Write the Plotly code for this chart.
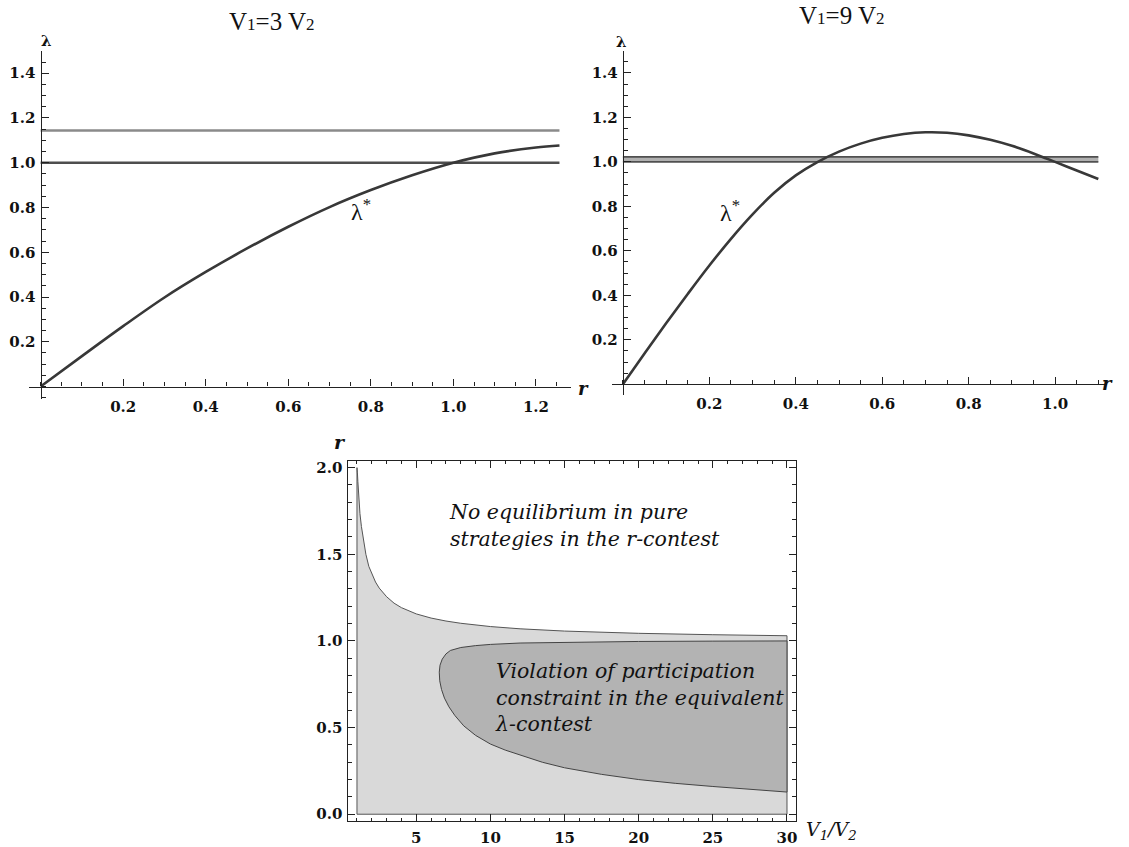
import plotly.graph_objects as go

W, H = 1129, 847
SERIF = "Liberation Serif"
DJ_SERIF = "DejaVu Serif"

# ---------------- data ----------------
# Top-left panel (V1 = 3 V2): lambda* as a function of r
TL_R = [0, 0.1, 0.2, 0.3, 0.4, 0.5, 0.6, 0.7, 0.8, 0.9, 1.0, 1.1, 1.2, 1.257]
TL_LAMBDA = [0, 0.136, 0.270, 0.398, 0.512, 0.617, 0.714, 0.802, 0.878, 0.944,
             1.000, 1.042, 1.068, 1.077]
TL_LEVELS = [1.144, 1.0]
TL_XTICKS = [0.2, 0.4, 0.6, 0.8, 1.0, 1.2]
TL_YTICKS = [0.2, 0.4, 0.6, 0.8, 1.0, 1.2, 1.4]

# Top-right panel (V1 = 9 V2)
TR_R = [0, 0.05, 0.1, 0.15, 0.2, 0.25, 0.3, 0.35, 0.4, 0.45, 0.5, 0.55, 0.6,
        0.65, 0.7, 0.75, 0.8, 0.85, 0.9, 0.95, 1.0, 1.05, 1.1]
TR_LAMBDA = [0, 0.138, 0.274, 0.406, 0.534, 0.654, 0.764, 0.861, 0.939, 0.999,
             1.046, 1.082, 1.108, 1.125, 1.133, 1.131, 1.119, 1.099, 1.072,
             1.038, 1.000, 0.961, 0.923]
TR_LEVELS = [1.0, 1.022]
TR_XTICKS = [0.2, 0.4, 0.6, 0.8, 1.0]
TR_YTICKS = [0.2, 0.4, 0.6, 0.8, 1.0, 1.2, 1.4]

# Bottom panel: regions in the (V1/V2, r) plane
UP_V = [1.0, 1.01, 1.03, 1.06, 1.1, 1.15, 1.2, 1.3, 1.4, 1.5, 1.6, 1.8, 2.0,
        2.25, 2.5, 3.0, 3.5, 4.0, 5.0, 6.0, 7.0, 8.0, 10, 12, 15, 20, 25, 30]
UP_R = [2.0, 1.99, 1.97, 1.92, 1.85, 1.79, 1.735, 1.66, 1.60, 1.54, 1.50, 1.43,
        1.385, 1.34, 1.305, 1.255, 1.218, 1.192, 1.156, 1.132, 1.115, 1.102,
        1.083, 1.07, 1.057, 1.044, 1.036, 1.03]
DARK_UP_V = [6.55, 6.6, 6.75, 7.0, 7.3, 8.0, 9.0, 10, 12, 15, 20, 25, 30]
DARK_UP_R = [0.82, 0.86, 0.895, 0.925, 0.945, 0.962, 0.973, 0.98, 0.988, 0.993,
             0.997, 0.999, 1.0]
DARK_LO_V = [6.55, 6.58, 6.7, 6.9, 7.2, 7.6, 8.2, 9.0, 10, 11, 12, 13.5, 15,
             17.5, 20, 22.5, 25, 27.5, 30]
DARK_LO_R = [0.82, 0.77, 0.72, 0.67, 0.62, 0.57, 0.51, 0.455, 0.405, 0.37, 0.34,
             0.30, 0.268, 0.23, 0.2, 0.178, 0.16, 0.143, 0.128]
B_XTICKS = [5, 10, 15, 20, 25, 30]
B_YTICKS = [0.0, 0.5, 1.0, 1.5, 2.0]


def px(x):
    return x / W


def py(y):
    return 1 - y / H


fig = go.Figure()

# ---------- top-left ----------
for lvl, col in zip(TL_LEVELS, ["#8a8a8a", "#4e4e4e"]):
    fig.add_trace(go.Scatter(x=[TL_R[0], TL_R[-1]], y=[lvl, lvl], mode="lines",
                             line=dict(color=col, width=2.6), xaxis="x", yaxis="y"))
fig.add_trace(go.Scatter(x=TL_R, y=TL_LAMBDA, mode="lines", line_shape="spline",
                         line=dict(color="#383838", width=2.6), xaxis="x", yaxis="y"))

# ---------- top-right ----------
fig.add_trace(go.Scatter(x=[TR_R[0], TR_R[-1]], y=[TR_LEVELS[0]] * 2, mode="lines",
                         line=dict(color="#505050", width=1.8), xaxis="x2", yaxis="y2"))
fig.add_trace(go.Scatter(x=[TR_R[0], TR_R[-1]], y=[TR_LEVELS[1]] * 2, mode="lines",
                         line=dict(color="#505050", width=1.8), fill="tonexty",
                         fillcolor="#b0b0b0", xaxis="x2", yaxis="y2"))
fig.add_trace(go.Scatter(x=TR_R, y=TR_LAMBDA, mode="lines", line_shape="spline",
                         line=dict(color="#383838", width=2.6), xaxis="x2", yaxis="y2"))

# ---------- bottom ----------
light_x = [UP_V[0]] + UP_V + [UP_V[-1], UP_V[0]]
light_y = [0] + UP_R + [0, 0]
fig.add_trace(go.Scatter(x=light_x, y=light_y, mode="lines", fill="toself",
                         fillcolor="#d9d9d9", line=dict(color="#555555", width=1),
                         xaxis="x3", yaxis="y3"))
dark_x = DARK_UP_V + DARK_LO_V[::-1]
dark_y = DARK_UP_R + DARK_LO_R[::-1]
fig.add_trace(go.Scatter(x=dark_x, y=dark_y, mode="lines", fill="toself",
                         fillcolor="#b3b3b3", line=dict(color="#444444", width=1),
                         xaxis="x3", yaxis="y3"))

tickfont = dict(family=DJ_SERIF, size=15, color="#111111", weight="bold")
base_axis = dict(showgrid=False, zeroline=False, showline=True, linecolor="#222222",
                 linewidth=1.3, ticks="inside", tickcolor="#222222", tickwidth=1.2,
                 ticklen=7, tickmode="array", tickfont=tickfont)


def minor(d, ln=4):
    return dict(ticks="inside", ticklen=ln, tickcolor="#222222", tickwidth=1,
                tickmode="linear", tick0=0, dtick=d, showgrid=False)


# top-left axes (r = 0 at 40.7px, 413.5 px/unit; lambda = 0 at 387.3px, 225.4 px/unit)
xa1 = dict(base_axis, domain=[px(29), px(572)], range=[-0.0283, 1.2849],
           anchor="free", position=py(387.3), tickvals=TL_XTICKS,
           ticktext=[f"{v:.1f}" for v in TL_XTICKS], minor=minor(0.05),
           ticklabelstandoff=6)
ya1 = dict(base_axis, domain=[py(400), py(49.2)], range=[-0.0563, 1.5],
           anchor="free", position=px(40.7), tickvals=TL_YTICKS,
           ticktext=[f"{v:.1f}" for v in TL_YTICKS], minor=minor(0.05),
           ticklabelstandoff=2)
# top-right axes (r = 0 at 624px, 433 px/unit; lambda = 0 at 385px, 224 px/unit)
xa2 = dict(base_axis, domain=[px(613), px(1109)], range=[-0.0254, 1.1201],
           anchor="free", position=py(385), tickvals=TR_XTICKS,
           ticktext=[f"{v:.1f}" for v in TR_XTICKS], minor=minor(0.05),
           ticklabelstandoff=6)
ya2 = dict(base_axis, domain=[py(396), py(49)], range=[-0.049, 1.5],
           anchor="free", position=px(624), tickvals=TR_YTICKS,
           ticktext=[f"{v:.1f}" for v in TR_YTICKS], minor=minor(0.05),
           ticklabelstandoff=2)
# bottom axes (framed)
xa3 = dict(base_axis, domain=[px(349), px(797)], range=[0.42, 30.58], anchor="y3",
           mirror="ticks", tickvals=B_XTICKS, ticktext=[str(v) for v in B_XTICKS],
           minor=minor(1, 3.5), linewidth=1.1, ticklabelstandoff=3)
ya3 = dict(base_axis, domain=[py(825), py(462)], range=[-0.04, 2.04], anchor="x3",
           mirror="ticks", tickvals=B_YTICKS, ticktext=[f"{v:.1f}" for v in B_YTICKS],
           minor=minor(0.1, 3.5), linewidth=1.1, ticklabelstandoff=2)

small = "<span style='font-size:17px'>{}</span>"
italic_lbl = dict(family=DJ_SERIF, color="#111111", weight="bold", style="italic")
annotations = [
    dict(text="V" + small.format("1") + "=3 V" + small.format("2"), x=px(272), y=py(20),
         xref="paper", yref="paper", showarrow=False, xanchor="center", yanchor="middle",
         font=dict(family=SERIF, size=25, color="#111111")),
    dict(text="V" + small.format("1") + "=9 V" + small.format("2"), x=px(843), y=py(14),
         xref="paper", yref="paper", showarrow=False, xanchor="center", yanchor="middle",
         font=dict(family=SERIF, size=25, color="#111111")),
    # axis labels
    dict(text="λ", x=px(39), y=py(28), xref="paper", yref="paper", showarrow=False,
         font=dict(family=DJ_SERIF, size=15, color="#111111", weight="bold")),
    dict(text="λ", x=px(623), y=py(29), xref="paper", yref="paper", showarrow=False,
         font=dict(family=DJ_SERIF, size=15, color="#111111", weight="bold")),
    dict(text="r", x=px(585), y=py(389), xref="paper", yref="paper", showarrow=False,
         font=dict(italic_lbl, size=18)),
    dict(text="r", x=px(1117), y=py(384), xref="paper", yref="paper", showarrow=False,
         font=dict(italic_lbl, size=18)),
    dict(text="r", x=px(333), y=py(443), xref="paper", yref="paper", showarrow=False,
         font=dict(italic_lbl, size=19)),
    dict(text="V<sub>1</sub>/V<sub>2</sub>", x=px(805), y=py(834), xref="paper",
         yref="paper", showarrow=False, xanchor="left", yanchor="middle",
         font=dict(family=DJ_SERIF, size=19, color="#111111", style="italic")),
    # curve labels
    dict(text="λ<sup>*</sup>", x=0.776, y=0.79, xref="x", yref="y", showarrow=False,
         font=dict(family=SERIF, size=24, color="#111111")),
    dict(text="λ<sup>*</sup>", x=0.248, y=0.78, xref="x2", yref="y2", showarrow=False,
         font=dict(family=SERIF, size=24, color="#111111")),
    # region labels
    dict(text="No equilibrium in pure<br>strategies in the r-contest", x=px(448),
         y=py(500), xref="paper", yref="paper", showarrow=False, xanchor="left",
         yanchor="top", align="left",
         font=dict(family=DJ_SERIF, size=20.5, color="#111111", style="italic")),
    dict(text="Violation of participation<br>constraint in the equivalent<br>λ-contest",
         x=px(494), y=py(660), xref="paper", yref="paper", showarrow=False,
         xanchor="left", yanchor="top", align="left",
         font=dict(family=DJ_SERIF, size=20.5, color="#111111", style="italic")),
]

fig.update_layout(
    width=W, height=H, autosize=False, margin=dict(l=0, r=0, t=0, b=0),
    paper_bgcolor="white", plot_bgcolor="white", showlegend=False,
    xaxis=xa1, yaxis=ya1, xaxis2=xa2, yaxis2=ya2, xaxis3=xa3, yaxis3=ya3,
    annotations=annotations,
)

fig.write_html("out.html")
